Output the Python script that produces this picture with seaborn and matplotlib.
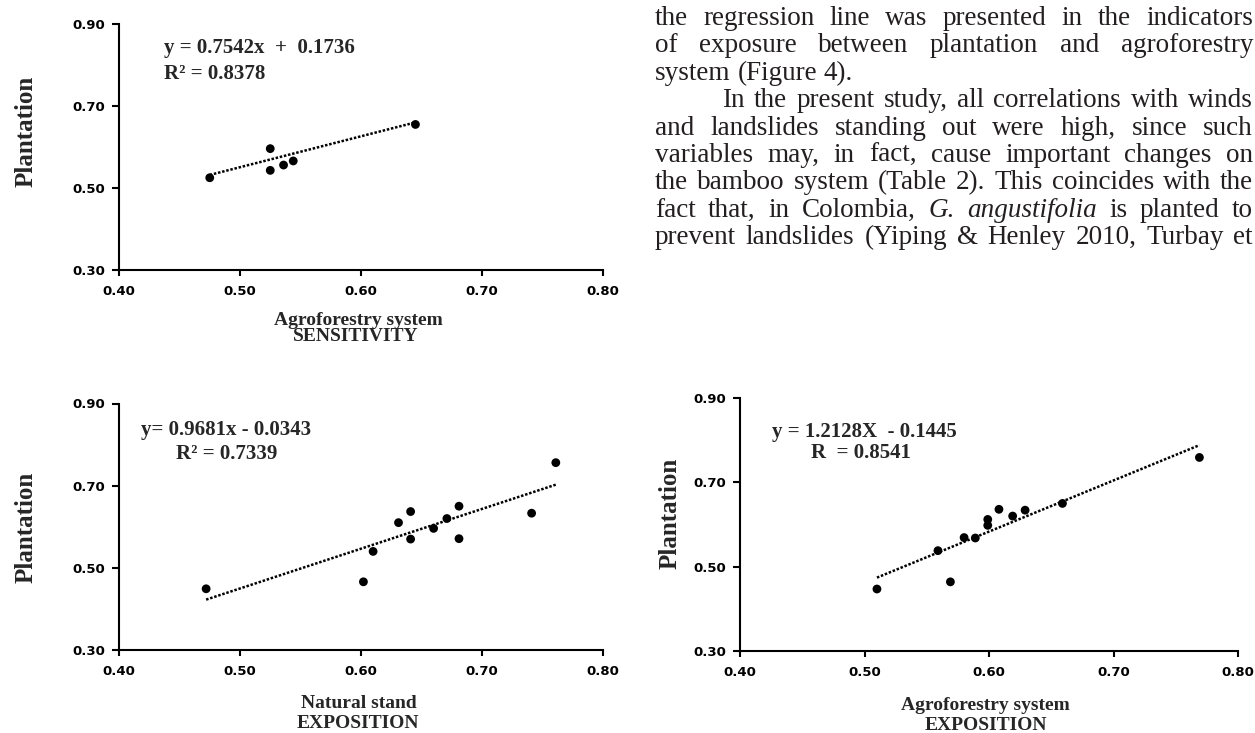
import matplotlib
matplotlib.use('Agg')
import matplotlib.pyplot as plt
import seaborn as sns

# ---- data ----
ticks_x = [0.40, 0.50, 0.60, 0.70, 0.80]
ticks_y = [0.30, 0.50, 0.70, 0.90]

# sensitivity: agroforestry system vs plantation
sens_agro = [0.475, 0.525, 0.525, 0.536, 0.544, 0.645]
sens_plant = [0.525, 0.596, 0.543, 0.556, 0.566, 0.655]
sens_fit = [0.7542, 0.1736]

# exposition: natural stand vs plantation
expo_nat = [0.472, 0.602, 0.610, 0.631, 0.641, 0.641, 0.660, 0.671, 0.681, 0.681, 0.741, 0.761]
expo_plant_a = [0.449, 0.466, 0.540, 0.610, 0.637, 0.570, 0.596, 0.620, 0.650, 0.571, 0.633, 0.756]
expo_nat_fit = [0.9681, -0.0343]

# exposition: agroforestry system vs plantation
expo_agro = [0.510, 0.569, 0.559, 0.580, 0.589, 0.599, 0.599, 0.608, 0.619, 0.629, 0.659, 0.769]
expo_plant_b = [0.447, 0.464, 0.538, 0.569, 0.568, 0.612, 0.598, 0.636, 0.620, 0.634, 0.650, 0.759]
expo_agro_fit = [1.2128, -0.1445]

body_lines = [
    "the regression line was presented in the indicators",
    "of exposure between plantation and agroforestry",
    "system (Figure 4).",
    "In the present study, all correlations with winds",
    "and landslides standing out were high, since such",
    "variables may, in fact, cause important changes on",
    "the bamboo system (Table 2). This coincides with the",
    "fact that, in Colombia, G. angustifolia is planted to",
    "prevent landslides (Yiping & Henley 2010, Turbay et",
]
italic_words = {"G.", "angustifolia"}

W, H = 1255, 733
sns.set_style('ticks')
fig = plt.figure(figsize=(W / 100, H / 100), dpi=100)

SERIF = 'Liberation Serif'
TICKFONT = 'DejaVu Sans'


def fx(x):
    return x / W


def fy(y):
    return 1 - y / H


def panel(box, xs, ys, fit):
    l, t, r, b = box
    ax = fig.add_axes([fx(l), fy(b), (r - l) / W, (b - t) / H])
    sns.scatterplot(x=xs, y=ys, ax=ax, color='black', s=40, edgecolor='none', zorder=3)
    lx = [min(xs), max(xs)]
    ly = [fit[0] * v + fit[1] for v in lx]
    ax.plot(lx, ly, color='black', lw=1.8, linestyle=(0, (1.0, 0.7)))
    ax.set_xlim(ticks_x[0], ticks_x[-1])
    ax.set_ylim(ticks_y[0], ticks_y[-1])
    ax.set_xticks(ticks_x)
    ax.set_yticks(ticks_y)
    ax.set_xticklabels([f'{v:.2f}' for v in ticks_x], fontsize=9.5, fontweight='bold', family=TICKFONT)
    ax.set_yticklabels([f'{v:.2f}' for v in ticks_y], fontsize=9.5, fontweight='bold', family=TICKFONT)
    ax.tick_params(axis='x', length=4, width=1.5, pad=7, colors='black')
    ax.tick_params(axis='y', length=5, width=1.5, pad=5, colors='black')
    for s in ['top', 'right']:
        ax.spines[s].set_visible(False)
    for s in ['left', 'bottom']:
        ax.spines[s].set_linewidth(1.5)
        ax.spines[s].set_color('black')
    ax.set_facecolor('none')
    return ax


panel((119, 24, 603, 270), sens_agro, sens_plant, sens_fit)
panel((119, 403.5, 603, 650), expo_nat, expo_plant_a, expo_nat_fit)
panel((740, 398, 1238, 651), expo_agro, expo_plant_b, expo_agro_fit)


def label(x, y, s, size, ha='left', rot=0, va='baseline'):
    fig.text(fx(x), fy(y), s, fontsize=size, fontweight='bold', family=SERIF,
             ha=ha, va=va, rotation=rot)


# top-left
label(164, 53, "y = 0.7542x  +  0.1736", 15)
label(164, 79, "R² = 0.8378", 15)
label(358, 325, "Agroforestry system", 14, ha='center')
label(356, 341, "SENSITIVITY", 14, ha='center')
label(26, 131, "Plantation", 18, ha='center', rot=90, va='center')

# bottom-left
label(141, 435, "y= 0.9681x - 0.0343", 15)
label(176, 459, "R² = 0.7339", 15)
label(359, 708, "Natural stand", 14, ha='center')
label(358, 728, "EXPOSITION", 14, ha='center')
label(26, 527, "Plantation", 18, ha='center', rot=90, va='center')

# bottom-right
label(772, 437, "y = 1.2128X  - 0.1445", 15)
label(811, 458, "R  = 0.8541", 15)
label(985, 710, "Agroforestry system", 14, ha='center')
label(986, 730, "EXPOSITION", 14, ha='center')
label(670, 513, "Plantation", 18, ha='center', rot=90, va='center')

# body text beside the first panel, justified line by line
renderer = fig.canvas.get_renderer()
BODY_SIZE = 19.5


def body_line(line, x0, x1, y, justify=True):
    texts = []
    for w in line.split():
        t = fig.text(0, fy(y), w, fontsize=BODY_SIZE, family=SERIF, va='baseline',
                     style='italic' if w in italic_words else 'normal', color='#231f20')
        texts.append(t)
    widths = [t.get_window_extent(renderer).width for t in texts]
    gap = 0.25 * BODY_SIZE * 100 / 72
    if justify and len(texts) > 1:
        gap = (x1 - x0 - sum(widths)) / (len(texts) - 1)
    x = x0
    for t, wd in zip(texts, widths):
        t.set_x(fx(x))
        x += wd + gap


for i, line in enumerate(body_lines):
    y = 25 + i * 27.4
    x0 = 722 if i == 3 else 655
    body_line(line, x0, 1253, y, justify=(i != 2))

fig.savefig('out.png', dpi=100)
